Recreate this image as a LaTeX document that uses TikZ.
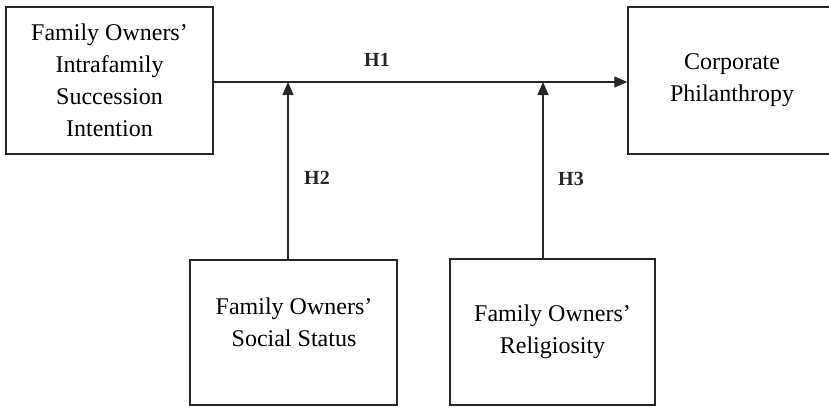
\documentclass[tikz,border=0pt]{standalone}
\usepackage{fontspec}
\setmainfont{Liberation Serif}
\usetikzlibrary{arrows.meta}
\begin{document}
\begin{tikzpicture}[x=0.5pt,y=-0.5pt,
  box/.style={draw=black!85,line width=0.7pt,rectangle,align=center,inner sep=0pt,
    font=\fontsize{12pt}{16pt}\selectfont},
  txt/.style={align=center,inner sep=0pt,font=\fontsize{12pt}{16pt}\selectfont},
  arr/.style={draw=black!85,line width=0.6pt,-{Triangle[length=6.5pt,width=5.5pt]}},
  hlab/.style={font=\fontsize{10pt}{12pt}\selectfont\bfseries,text=black!85}]
\useasboundingbox (0,0) rectangle (829,407);
\node[box,minimum width=103.5pt,minimum height=73.5pt] (b1) at (109.5,80.5)
  {Family Owners'\\Intrafamily\\Succession\\Intention};
\node[box,minimum width=104pt,minimum height=73.5pt] (b2) at (732,80.5)
  {Corporate\\Philanthropy};
\node[box,minimum width=103.5pt,minimum height=72.5pt] (b3) at (293.5,332.5) {};
\node[txt] (b3t) at (294,322) {Family Owners'\\Social Status};
\node[box,minimum width=102.5pt,minimum height=73pt] (b4) at (552.5,332)
  {Family Owners'\\Religiosity};
\coordinate (j1) at (288,82);
\coordinate (j2) at (543,82);
\draw[arr] (b1.east |- j1) -- (b2.west |- j1);
\draw[arr] (b3.north -| j1) -- (j1);
\draw[arr] (b4.north -| j2) -- (j2);
\node[hlab] (h1) at (377,60) {H1};
\node[hlab] (h2) at (317,178) {H2};
\node[hlab] (h3) at (571,179) {H3};
\end{tikzpicture}
\end{document}
